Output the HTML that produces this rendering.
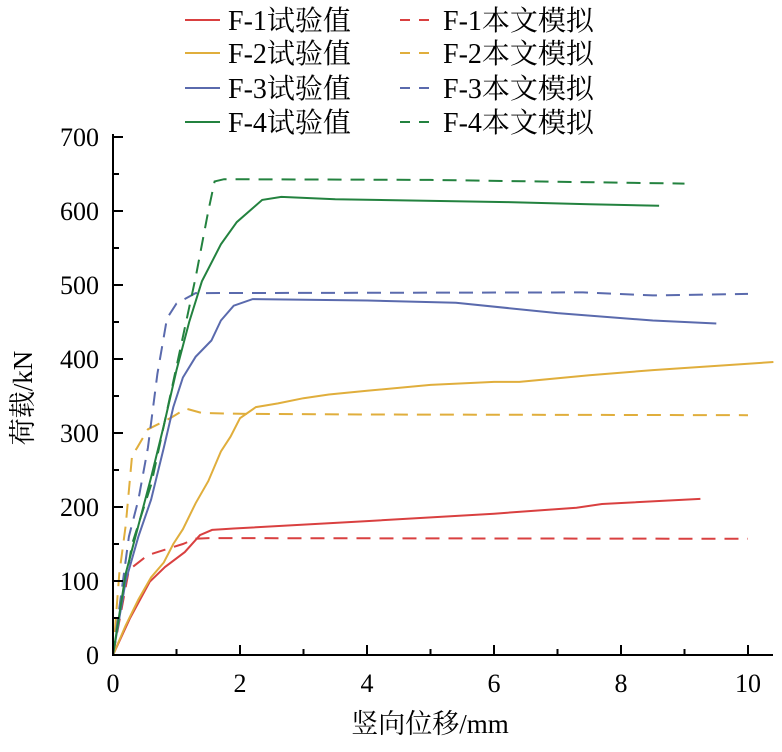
<!DOCTYPE html>
<html><head><meta charset="utf-8"><style>
body{margin:0;background:#fff}
svg text{font-family:"Liberation Serif","Noto Serif CJK SC",serif;fill:#000}
</style></head><body>
<svg id="chart" width="782" height="747" viewBox="0 0 782 747" xmlns="http://www.w3.org/2000/svg"></svg>
<script>
const xTicks=[0,2,4,6,8,10];
const yTicks=[0,100,200,300,400,500,600,700];
const seriesNames=["F-1试验值","F-2试验值","F-3试验值","F-4试验值","F-1本文模拟","F-2本文模拟","F-3本文模拟","F-4本文模拟"];
const colors=["#d94040","#e0ae3c","#5a6aad","#23823f"];
const f1TestX=[0,0.27,0.58,0.82,1.13,1.37,1.56,1.72,1.9,4,6,7.3,7.7,9.25];
const f1TestY=[0,50,99,119,139,162,169,170,171,181,191,199,204,211];
const f2TestX=[0,0.2,0.4,0.6,0.8,0.95,1.1,1.3,1.5,1.7,1.85,2.0,2.25,2.6,3.0,3.4,4,5,6,6.4,7.5,8.5,10.4];
const f2TestY=[0,40,75,105,125,150,170,205,235,275,295,320,335,340,347,352,357,365,369,369,378,385,396];
const f3TestX=[0,0.2,0.4,0.6,0.8,0.95,1.1,1.3,1.55,1.7,1.9,2.2,4,5.4,7,8.5,9.5];
const f3TestY=[0,100,160,210,280,335,375,403,425,452,472,481,479,476,462,452,448];
const f4TestX=[0,0.2,0.4,0.6,0.8,1.0,1.2,1.4,1.7,1.95,2.35,2.65,3.5,6.2,7.5,8.6];
const f4TestY=[0,110,175,240,310,385,450,505,555,585,615,619,616,612,609,607];
const f1SimX=[0,0.25,0.55,1.1,1.3,1.5,10];
const f1SimY=[0,115,135,150,157,158,157];
const f2SimX=[0,0.1,0.2,0.3,0.38,0.55,0.9,1.15,1.4,2,4,10];
const f2SimY=[0,110,175,270,280,305,320,333,327,326,325,324];
const f3SimX=[0,0.25,0.4,0.55,0.7,0.85,1.0,1.3,7.4,8.5,10];
const f3SimY=[0,160,210,280,380,455,475,489,490,486,488];
const f4SimX=[0,0.3,0.6,0.9,1.1,1.3,1.5,1.6,1.75,5,9];
const f4SimY=[0,150,230,350,430,510,600,640,643,642,637];

const NS="http://www.w3.org/2000/svg";
const svg=document.getElementById('chart');
const X0=113,X1=748,Y0=655,Y1=137;
const sx=v=>X0+(v-0)/(10-0)*(X1-X0);
const sy=v=>Y0-(v/700)*(Y0-Y1);
function mk(tag,attrs,parent){const e=document.createElementNS(NS,tag);for(const k in attrs)e.setAttribute(k,attrs[k]);(parent||svg).appendChild(e);return e;}

const clip=mk('clipPath',{id:'pc'});mk('rect',{x:X0,y:Y1-20,width:782-X0,height:Y0-Y1+20},clip);

const tests=[[f1TestX,f1TestY],[f2TestX,f2TestY],[f3TestX,f3TestY],[f4TestX,f4TestY]];
const sims=[[f1SimX,f1SimY],[f2SimX,f2SimY],[f3SimX,f3SimY],[f4SimX,f4SimY]];
function line(xs,ys,c,dash,name){
  const d=xs.map((x,i)=>(i?'L':'M')+sx(x).toFixed(1)+','+sy(ys[i]).toFixed(1)).join('');
  const p=mk('path',{d:d,fill:'none',stroke:c,'stroke-width':2,'clip-path':'url(#pc)'});
  if(dash)p.setAttribute('stroke-dasharray','14,9');
  
  
}
for(let i=0;i<4;i++){line(sims[i][0],sims[i][1],colors[i],true,'series-f'+(i+1)+'-sim');}
for(let i=0;i<4;i++){line(tests[i][0],tests[i][1],colors[i],false,'series-f'+(i+1)+'-test');}

const ax=mk('path',{d:`M${X0},${Y1-3}V${Y0}H${X1+25}`,fill:'none',stroke:'#000','stroke-width':2});


for(let v=0;v<=700;v+=50){const y=sy(v);mk('line',{x1:X0,x2:X0+(v%100===0?10:6),y1:y,y2:y,stroke:'#000','stroke-width':2});}
for(let v=0;v<=10;v+=1){const x=sx(v);mk('line',{x1:x,x2:x,y1:Y0,y2:Y0-(v%2===0?10:6),stroke:'#000','stroke-width':2});}
yTicks.forEach(v=>{const t=mk('text',{x:99,y:sy(v)+9,'text-anchor':'end','font-size':26});t.textContent=v;

});
xTicks.forEach(v=>{const t=mk('text',{x:sx(v),y:692,'text-anchor':'middle','font-size':26});t.textContent=v;

});
const xt=mk('text',{x:430,y:733,'text-anchor':'middle','font-size':27});xt.textContent='竖向位移/mm';


const yt=mk('text',{x:0,y:0,'text-anchor':'middle','font-size':27,transform:'translate(32,398) rotate(-90)'});yt.textContent='荷载/kN';



const rows=[20,53,88,122];
for(let i=0;i<8;i++){
  const col=i<4?0:1,r=i%4,c=colors[r];
  const lx=col?400:185,y=rows[r];
  const g=mk('g',{});
  
  
  const l=mk('line',{x1:lx,x2:lx+35,y1:y,y2:y,stroke:c,'stroke-width':2},g);
  if(col)l.setAttribute('stroke-dasharray','10,9');
  const t=mk('text',{x:lx+43,y:y+10,'font-size':28},g);t.textContent=seriesNames[i];
}
</script>
</body></html>
